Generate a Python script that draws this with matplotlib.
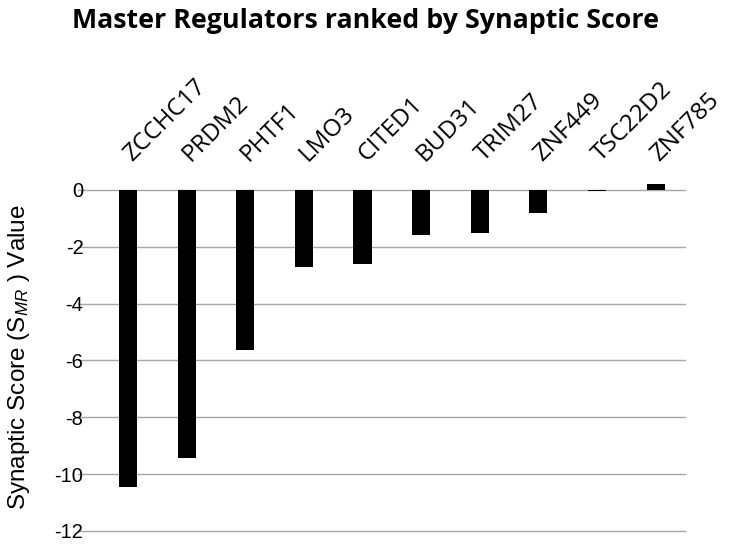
import numpy as np
import matplotlib.pyplot as plt
from matplotlib.transforms import ScaledTranslation

plt.rcParams['mathtext.fontset'] = 'custom'
plt.rcParams['mathtext.rm'] = 'Liberation Sans'
plt.rcParams['mathtext.it'] = 'Liberation Sans:italic'

# data
regulators = ['ZCCHC17', 'PRDM2', 'PHTF1', 'LMO3', 'CITED1',
              'BUD31', 'TRIM27', 'ZNF449', 'TSC22D2', 'ZNF785']
scores = [-10.45, -9.45, -5.65, -2.7, -2.6, -1.6, -1.52, -0.82, -0.03, 0.2]
yticks = [0, -2, -4, -6, -8, -10, -12]

fig = plt.figure(figsize=(7.31, 5.49), dpi=100)
ax = fig.add_axes([0.135, 0.033, 0.802, 0.634])

x = np.arange(len(regulators))
ax.bar(x, scores, width=0.31, color='black', zorder=3)

ax.set_xlim(-0.5, len(regulators) - 0.5)
ax.set_ylim(-12, 0.25)
ax.set_yticks(yticks)
ax.set_yticklabels([str(t) for t in yticks], fontsize=14.5, family='Liberation Sans')
ax.tick_params(axis='y', length=0, pad=11)
for t in yticks:
    ax.axhline(t, xmin=-0.035, xmax=1.0, color='#a6a6a6', lw=1, zorder=1, clip_on=False)

ax.xaxis.tick_top()
ax.set_xticks(x)
ax.set_xticklabels(regulators, rotation=45, ha='left', va='bottom',
                   rotation_mode='anchor', fontsize=17.5, family='Open Sans')
ax.tick_params(axis='x', length=0, pad=12)
# nudge the slanted names a little to the right, as in the original
shift = ScaledTranslation(0.08, 0, fig.dpi_scale_trans)
for lab in ax.get_xticklabels():
    lab.set_transform(lab.get_transform() + shift)

for s in ax.spines.values():
    s.set_visible(False)

ax.set_ylabel('Synaptic Score (S$_{\\mathit{MR}}$ ) Value', fontsize=17.5,
              family='Liberation Sans', labelpad=16)
fig.text(0.5, 0.962, 'Master Regulators ranked by Synaptic Score', ha='center',
         va='center', fontsize=19.3, fontweight='bold', family='Open Sans')

fig.savefig('out.png', dpi=100)
